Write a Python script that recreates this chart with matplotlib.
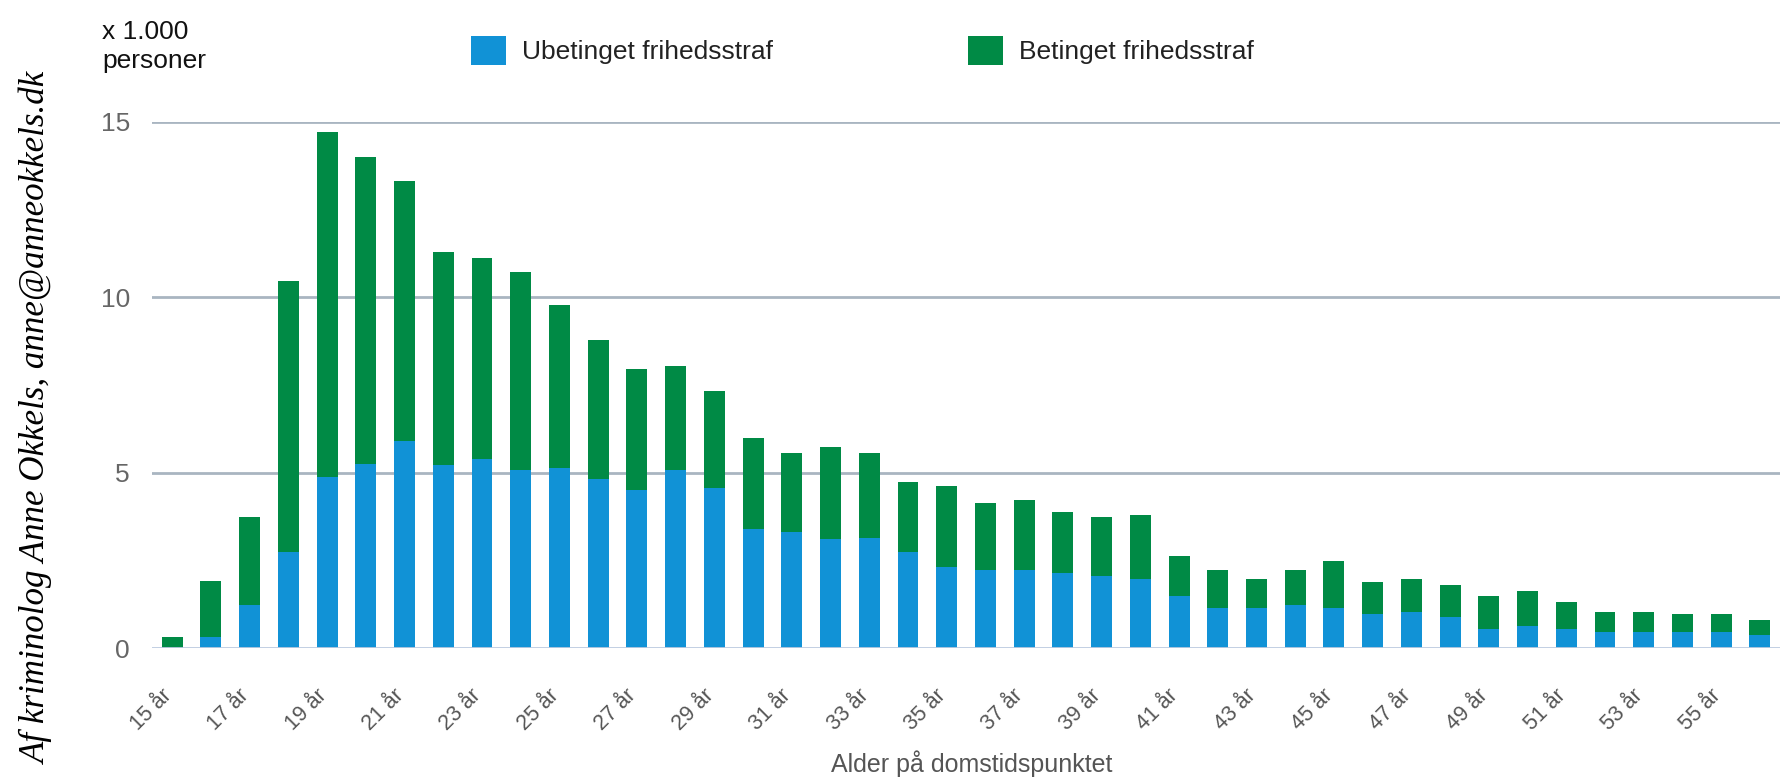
import matplotlib
matplotlib.use("Agg")
import matplotlib.pyplot as plt
import numpy as np

# === DATA (x 1.000 personer) ===
ages = list(range(15, 57))
ubetinget = [0.0, 0.30, 1.22, 2.73, 4.88, 5.24, 5.89, 5.23, 5.40, 5.06,
             5.14, 4.82, 4.49, 5.06, 4.57, 3.38, 3.30, 3.12, 3.13, 2.73,
             2.30, 2.22, 2.22, 2.13, 2.05, 1.97, 1.47, 1.13, 1.13, 1.22,
             1.13, 0.97, 1.03, 0.87, 0.54, 0.62, 0.55, 0.45, 0.45, 0.45,
             0.45, 0.37]
total = [0.30, 1.90, 3.72, 10.46, 14.72, 13.98, 13.30, 11.30, 11.12, 10.72,
         9.78, 8.79, 7.95, 8.04, 7.32, 5.99, 5.56, 5.73, 5.56, 4.72,
         4.63, 4.14, 4.23, 3.88, 3.72, 3.80, 2.63, 2.22, 1.97, 2.22,
         2.47, 1.89, 1.97, 1.79, 1.47, 1.63, 1.30, 1.04, 1.04, 0.97,
         0.97, 0.80]
betinget = [t - u for t, u in zip(total, ubetinget)]
tick_labels = [f"{a} år" for a in ages]

# === STYLE ===
BLUE = '#1192d6'
GREEN = '#008a45'
GRID = '#a9b5c1'
SANS = 'Liberation Sans'

fig = plt.figure(figsize=(17.89, 7.77), dpi=100)
ax = fig.add_axes([0.085, 0.166, 0.910, 0.6774])

x = np.arange(len(ages))
ax.bar(x, ubetinget, width=0.54, color=BLUE, label='Ubetinget frihedsstraf', zorder=3)
ax.bar(x, betinget, width=0.54, bottom=ubetinget, color=GREEN,
       label='Betinget frihedsstraf', zorder=3)

ax.set_xlim(-0.52, len(ages) - 0.48)
ax.set_ylim(0, 15)
ax.set_yticks([0, 5, 10, 15])
for y in [5, 10, 15]:
    ax.axhline(y, color=GRID, lw=2.0, zorder=1)
ax.axhline(0, color='#bccbe0', lw=2.0, zorder=4)
for s in ax.spines.values():
    s.set_visible(False)

# every second age labelled, rotated like the original
ax.set_xticks(x[::2])
ax.set_xticklabels(tick_labels[::2], rotation=45, ha='right', va='baseline',
                   rotation_mode='anchor', fontsize=15.5, color='#555555',
                   family=SANS)
ax.tick_params(axis='x', length=0, pad=35)
ax.tick_params(axis='y', length=0, pad=16, labelsize=19, labelcolor='#666666')
for t in ax.get_yticklabels():
    t.set_family(SANS)

fig.text(0.057, 1 - 20 / 777, "x 1.000\npersoner", fontsize=19, family=SANS,
         color='#111111', va='top', linespacing=1.25)
fig.text(0.543, 0.006, "Alder på domstidspunktet", fontsize=18, family=SANS,
         color='#555555', ha='center', va='baseline')

fig.legend(loc='upper left', bbox_to_anchor=(471 / 1789, 1 - 36 / 777),
           ncol=2, frameon=False, borderpad=0, borderaxespad=0,
           handlelength=1.33, handleheight=1.33, handletextpad=0.6,
           columnspacing=7.4, prop={'family': SANS, 'size': 19},
           labelcolor='#222222')

fig.text(0.021, 1 - 72 / 777, "Af kriminolog Anne Okkels, anne@anneokkels.dk",
         rotation=90, ha='center', va='top', fontsize=25.2,
         family='Liberation Serif', style='italic', color='black')

fig.savefig('out.png', dpi=100)
